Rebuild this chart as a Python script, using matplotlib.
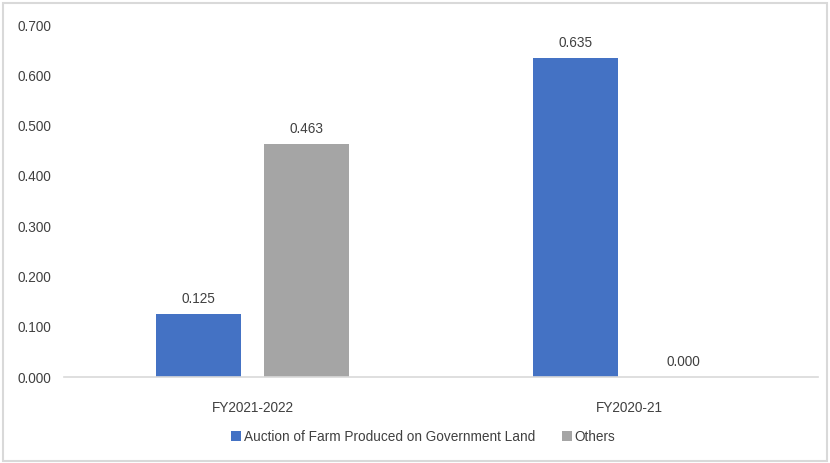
import numpy as np
import matplotlib.pyplot as plt
from matplotlib.patches import Rectangle

categories = ["FY2021-2022", "FY2020-21"]
auction = [0.125, 0.635]
others = [0.463, 0.000]
series_names = ["Auction of Farm Produced on Government Land", "Others"]
colors = ["#4472C4", "#A5A5A5"]

plt.rcParams['font.family'] = ['Liberation Sans', 'DejaVu Sans']
text_color = "#404040"

fig = plt.figure(figsize=(8.3, 4.63), dpi=100)
ax = fig.add_axes([0.077, 0.1857, 0.9085, 0.7603])

x = np.arange(len(categories))
width = 0.225
offset = 0.1425
for vals, name, c, dx in zip([auction, others], series_names, colors, [-offset, offset]):
    ax.bar(x + dx, vals, width, color=c, label=name)
    for xi, v in zip(x + dx, vals):
        ax.text(xi, v + 0.016, "%.3f" % v, ha='center', va='bottom',
                fontsize=9.8, color=text_color)

ax.set_xlim(-0.5, 1.5)
ax.set_ylim(0, 0.7)
ax.set_yticks(np.arange(0, 0.71, 0.1))
ax.set_yticklabels(["%.3f" % t for t in np.arange(0, 0.71, 0.1)])
ax.set_xticks(x)
ax.set_xticklabels(categories)
ax.tick_params(axis='both', length=0, labelsize=9.8, colors=text_color)
ax.tick_params(axis='y', pad=9)
ax.tick_params(axis='x', pad=17)
for s in ['top', 'right', 'left']:
    ax.spines[s].set_visible(False)
ax.spines['bottom'].set_color("#D9D9D9")
ax.spines['bottom'].set_linewidth(1.2)

leg = fig.legend(loc='center', bbox_to_anchor=(0.51, 0.057), ncol=2, frameon=False,
                 fontsize=9.8, handlelength=0.7, handleheight=0.7, handletextpad=0.2,
                 columnspacing=2.0)
for t in leg.get_texts():
    t.set_color(text_color)

fig.patches.append(Rectangle((0.004, 0.004), 0.992, 0.99, transform=fig.transFigure,
                             fill=False, edgecolor="#D9D9D9", linewidth=1.5))

fig.savefig("out.png", dpi=100)
